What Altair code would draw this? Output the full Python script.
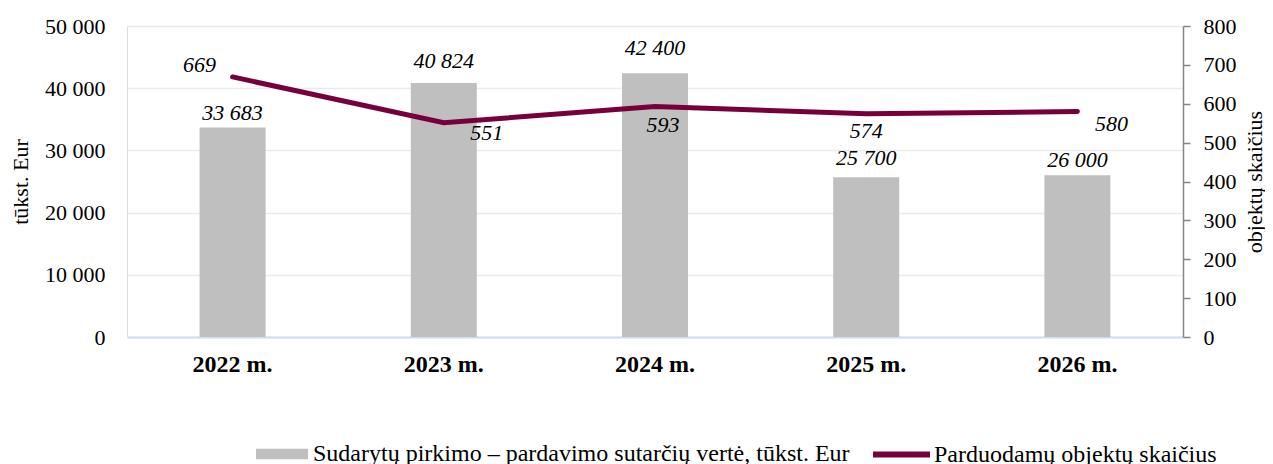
import altair as alt
import pandas as pd

years = ["2022 m.", "2023 m.", "2024 m.", "2025 m.", "2026 m."]
values = [33683, 40824, 42400, 25700, 26000]
counts = [669, 551, 593, 574, 580]

bar_name = "Sudarytų pirkimo – pardavimo sutarčių vertė, tūkst. Eur"
line_name = "Parduodamų objektų skaičius"

# label offsets (styling)
bar_label_dy = [-14, -22, -25, -19, -15]
line_label_dx = [-33, 43, 8, 0, 34]
line_label_dy = [-12, 10, 19, 17, 12]

FONT = "Liberation Serif"
BAR_COLOR = "#BFBFBF"
LINE_COLOR = "#78003A"

df = pd.DataFrame({
    "year": years,
    "value": values,
    "count": counts,
    "value_label": [f"{v:,}".replace(",", " ") for v in values],
    "count_label": [str(c) for c in counts],
    "bar_series": [bar_name] * len(years),
    "line_series": [line_name] * len(years),
})

W, H = 1056, 311

x_axis = alt.Axis(labelAngle=0, labelFont=FONT, labelFontSize=24, labelFontWeight="bold",
                  labelColor="#000000", ticks=False, tickSize=0, labelPadding=15,
                  domainColor="#D0DCEE", domainWidth=2)
x = alt.X("year:N", sort=years, title=None,
          scale=alt.Scale(paddingInner=0, paddingOuter=0), axis=x_axis)

y_left_scale = alt.Scale(domain=[0, 50000], nice=False)
y_right_scale = alt.Scale(domain=[0, 800], nice=False)

left_axis = alt.Axis(values=[0, 10000, 20000, 30000, 40000, 50000],
                     labelExpr="replace(format(datum.value, ','), /,/g, ' ')",
                     labelFont=FONT, labelFontSize=22, labelColor="#000000", labelOverlap=False,
                     ticks=False, tickSize=0, domain=False, labelPadding=22,
                     grid=True, gridColor="#EBEBEB", gridWidth=1.5,
                     titleFont=FONT, titleFontSize=22, titleFontWeight="normal",
                     titleColor="#000000", titleX=-107, titleY=H / 2,
                     titleAngle=270, titleAlign="center", titleBaseline="middle")

right_axis = alt.Axis(orient="right", values=[0, 100, 200, 300, 400, 500, 600, 700, 800],
                      labelFont=FONT, labelFontSize=22, labelColor="#000000", labelOverlap=False,
                      domain=True, domainColor="#868686", domainWidth=1.5,
                      ticks=True, tickColor="#868686", tickWidth=1.5, tickSize=7,
                      labelPadding=13, grid=False,
                      titleFont=FONT, titleFontSize=22, titleFontWeight="normal",
                      titleColor="#000000", titleX=71, titleY=H / 2,
                      titleAngle=270, titleAlign="center", titleBaseline="middle")

base = alt.Chart(df)

bars = base.mark_bar(size=66).encode(
    x=x,
    y=alt.Y("value:Q", scale=y_left_scale, title="tūkst. Eur", axis=left_axis),
    color=alt.Color("bar_series:N",
                    scale=alt.Scale(domain=[bar_name], range=[BAR_COLOR]),
                    legend=alt.Legend(orient="none", legendX=129, legendY=402, title=None,
                                      padding=0,
                                      symbolType="M-1,-0.2L1,-0.2L1,0.2L-1,0.2Z",
                                      symbolSize=2704, symbolStrokeWidth=0, symbolOpacity=1,
                                      labelFont=FONT, labelFontSize=24, labelColor="#000000",
                                      labelOffset=5, labelLimit=900)),
)

bar_texts = []
for yr, dy in zip(years, bar_label_dy):
    bar_texts.append(
        base.transform_filter(alt.datum.year == yr).mark_text(
            font=FONT, fontSize=22, fontStyle="italic", color="#000000",
            baseline="middle", align="center", dy=dy
        ).encode(x=x,
                 y=alt.Y("value:Q", scale=y_left_scale, title="tūkst. Eur", axis=left_axis),
                 text="value_label:N")
    )

left_layer = alt.layer(bars, *bar_texts)

line = base.mark_line(strokeWidth=5, strokeCap="round").encode(
    x=x,
    y=alt.Y("count:Q", scale=y_right_scale, title="objektų skaičius", axis=right_axis),
    stroke=alt.Stroke("line_series:N",
                      scale=alt.Scale(domain=[line_name], range=[LINE_COLOR]),
                      legend=alt.Legend(orient="none", legendX=743, legendY=397, title=None,
                                        padding=0, symbolType="stroke", symbolSize=3249,
                                        symbolStrokeWidth=6,
                                        labelFont=FONT, labelFontSize=24, labelColor="#000000",
                                        labelOffset=1, labelLimit=900)),
)

line_texts = []
for yr, dx, dy in zip(years, line_label_dx, line_label_dy):
    line_texts.append(
        base.transform_filter(alt.datum.year == yr).mark_text(
            font=FONT, fontSize=22, fontStyle="italic", color="#000000",
            baseline="middle", align="center", dx=dx, dy=dy
        ).encode(x=x,
                 y=alt.Y("count:Q", scale=y_right_scale, title="objektų skaičius", axis=right_axis),
                 text="count_label:N")
    )

right_layer = alt.layer(line, *line_texts)

chart = alt.layer(left_layer, right_layer).resolve_scale(
    y="independent", color="independent", stroke="independent"
).properties(
    width=W, height=H,
    autosize=alt.AutoSizeParams(type="none"),
    padding={"left": 119, "top": 18, "right": 82, "bottom": 129},
).configure_view(stroke="#D9D9D9", strokeWidth=1.5).configure(background="#FFFFFF")

chart.save("out.html", embed_options={"renderer": "svg", "actions": False})
